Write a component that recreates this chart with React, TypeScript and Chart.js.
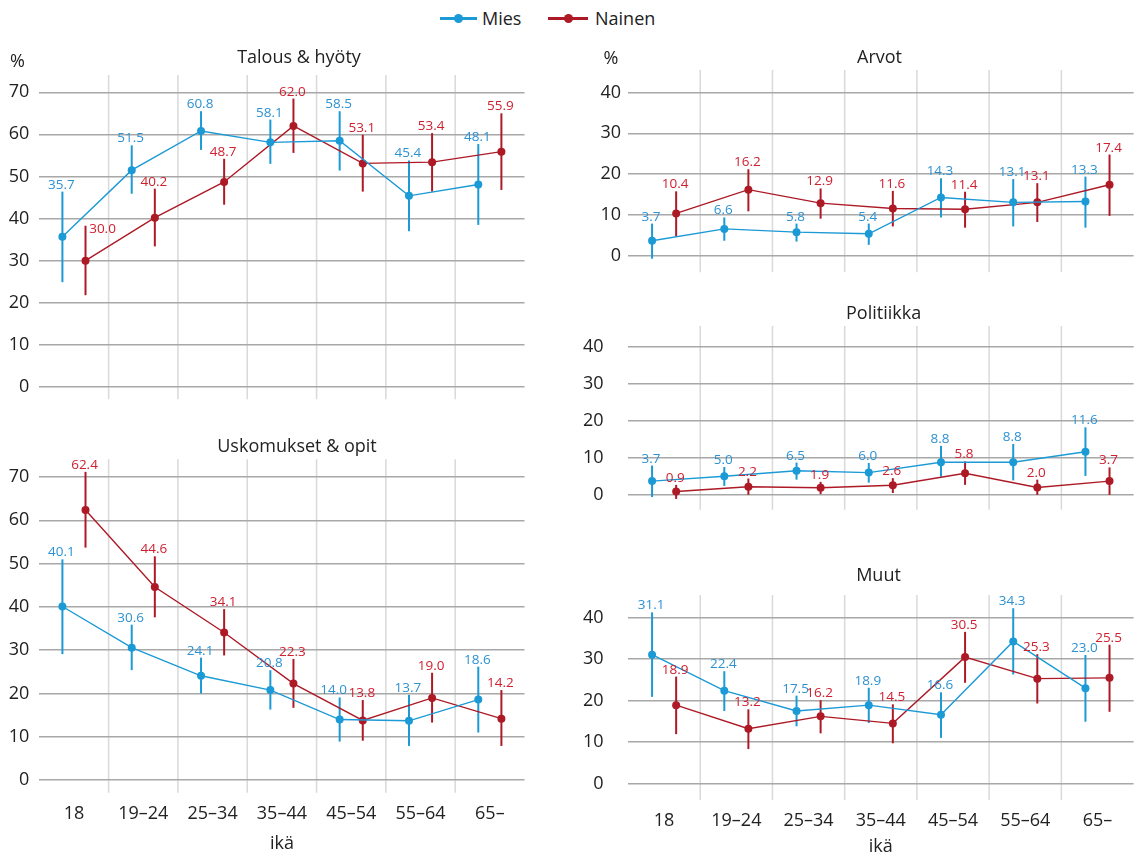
import React, { useEffect, useRef } from 'react';
import { Chart, registerables } from 'chart.js';

Chart.register(...registerables);

// ---------- data ----------
const AGE_GROUPS = ['18', '19–24', '25–34', '35–44', '45–54', '55–64', '65–'];
const Y_TICKS_LEFT = [0, 10, 20, 30, 40, 50, 60, 70];
const Y_TICKS_RIGHT = [0, 10, 20, 30, 40];
const SERIES_NAMES = ['Mies', 'Nainen'];

// Talous & hyöty
const TALOUS_MIES = [35.7, 51.5, 60.8, 58.1, 58.5, 45.4, 48.1];
const TALOUS_MIES_LOW = [24.9, 45.9, 56.3, 53.0, 51.4, 37.0, 38.5];
const TALOUS_MIES_HIGH = [46.4, 57.4, 65.5, 63.5, 65.5, 53.8, 57.7];
const TALOUS_NAINEN = [30.0, 40.2, 48.7, 62.0, 53.1, 53.4, 55.9];
const TALOUS_NAINEN_LOW = [21.8, 33.4, 43.3, 55.6, 46.4, 46.4, 46.8];
const TALOUS_NAINEN_HIGH = [38.3, 47.1, 54.2, 68.5, 59.9, 60.3, 65.0];

// Uskomukset & opit
const USKO_MIES = [40.1, 30.6, 24.1, 20.8, 14.0, 13.7, 18.6];
const USKO_MIES_LOW = [29.1, 25.4, 20.0, 16.3, 8.9, 7.9, 11.0];
const USKO_MIES_HIGH = [51.0, 35.9, 28.3, 25.4, 19.1, 19.7, 26.2];
const USKO_NAINEN = [62.4, 44.6, 34.1, 22.3, 13.8, 19.0, 14.2];
const USKO_NAINEN_LOW = [53.7, 37.6, 28.8, 16.7, 9.1, 13.3, 7.9];
const USKO_NAINEN_HIGH = [71.2, 51.7, 39.5, 28.0, 18.5, 24.8, 20.8];

// Arvot
const ARVOT_MIES = [3.7, 6.6, 5.8, 5.4, 14.3, 13.1, 13.3];
const ARVOT_MIES_LOW = [-0.7, 3.7, 3.5, 2.7, 9.4, 7.2, 6.9];
const ARVOT_MIES_HIGH = [7.9, 9.4, 7.9, 7.9, 19.0, 18.8, 19.4];
const ARVOT_NAINEN = [10.4, 16.2, 12.9, 11.6, 11.4, 13.1, 17.4];
const ARVOT_NAINEN_LOW = [4.7, 10.9, 9.1, 7.2, 6.9, 8.3, 9.8];
const ARVOT_NAINEN_HIGH = [15.8, 21.2, 16.5, 15.9, 15.7, 17.8, 24.8];

// Politiikka
const POLI_MIES = [3.7, 5.0, 6.5, 6.0, 8.8, 8.8, 11.6];
const POLI_MIES_LOW = [-0.6, 2.4, 4.1, 3.3, 4.9, 3.9, 5.1];
const POLI_MIES_HIGH = [7.9, 7.5, 8.7, 8.6, 13.2, 13.7, 18.2];
const POLI_NAINEN = [0.9, 2.2, 1.9, 2.6, 5.8, 2.0, 3.7];
const POLI_NAINEN_LOW = [-1.1, 0.0, 0.2, 0.5, 2.7, 0.0, 0.0];
const POLI_NAINEN_HIGH = [2.7, 4.4, 3.5, 4.5, 9.0, 4.1, 7.4];

// Muut
const MUUT_MIES = [31.1, 22.4, 17.5, 18.9, 16.6, 34.3, 23.0];
const MUUT_MIES_LOW = [20.9, 17.5, 13.8, 14.6, 11.0, 26.3, 14.9];
const MUUT_MIES_HIGH = [41.3, 27.1, 21.2, 23.1, 22.0, 42.3, 31.0];
const MUUT_NAINEN = [18.9, 13.2, 16.2, 14.5, 30.5, 25.3, 25.5];
const MUUT_NAINEN_LOW = [11.9, 8.3, 12.1, 9.7, 24.3, 19.3, 17.3];
const MUUT_NAINEN_HIGH = [25.8, 17.9, 20.1, 19.1, 36.6, 31.2, 33.5];

// ---------- styles ----------
const FONT = '"Open Sans", "Noto Sans", sans-serif';
const BLUE = '#1b9ad6';
const RED = '#ad1a26';
const BLUE_LABEL = '#2d92d2';
const RED_LABEL = '#cf2030';
const TEXT = '#222222';
const H_GRID = '#a8a8a8';
const V_GRID = '#d9d9d9';
const OFFSET = 1 / 6;

type Series = { values: number[]; low: number[]; high: number[] };
type Nudge = { series: number; index: number; dx: number; dy: number };
type PanelCfg = {
  title: string;
  frame: { left: number; top: number; width: number; height: number };
  pad: { top: number; right: number; bottom: number; left: number };
  yAxisWidth: number;
  yTickPadding: number;
  xAxisHeight: number;
  yMin: number;
  yMax: number;
  yTicks: number[];
  titlePos: [number, number];
  percentPos?: [number, number];
  labelNudges?: Nudge[];
  mies: Series;
  nainen: Series;
};

const PANELS: PanelCfg[] = [
  {
    title: 'Talous & hyöty',
    frame: { left: 0, top: 30, width: 545, height: 390 },
    pad: { top: 45, right: 20.5, bottom: 13, left: 0 },
    yAxisWidth: 39.3,
    yTickPadding: 10,
    xAxisHeight: 0,
    yMin: -2.9,
    yMax: 74.1,
    yTicks: Y_TICKS_LEFT,
    titlePos: [299, 58],
    percentPos: [17.5, 62],
    labelNudges: [{ series: 1, index: 0, dx: 18, dy: 10 }],
    mies: { values: TALOUS_MIES, low: TALOUS_MIES_LOW, high: TALOUS_MIES_HIGH },
    nainen: { values: TALOUS_NAINEN, low: TALOUS_NAINEN_LOW, high: TALOUS_NAINEN_HIGH },
  },
  {
    title: 'Uskomukset & opit',
    frame: { left: 0, top: 420, width: 545, height: 435 },
    pad: { top: 39.3, right: 20.5, bottom: 0, left: 0 },
    yAxisWidth: 39.3,
    yTickPadding: 10,
    xAxisHeight: 62.3,
    yMin: -2.9,
    yMax: 74.1,
    yTicks: Y_TICKS_LEFT,
    titlePos: [297, 446.7],
    labelNudges: [{ series: 0, index: 4, dx: -5, dy: 0 }],
    mies: { values: USKO_MIES, low: USKO_MIES_LOW, high: USKO_MIES_HIGH },
    nainen: { values: USKO_NAINEN, low: USKO_NAINEN_LOW, high: USKO_NAINEN_HIGH },
  },
  {
    title: 'Arvot',
    frame: { left: 560, top: 30, width: 580, height: 260 },
    pad: { top: 40, right: 6.4, bottom: 15.7, left: 0 },
    yAxisWidth: 68,
    yTickPadding: 7,
    xAxisHeight: 0,
    yMin: -4,
    yMax: 45.5,
    yTicks: Y_TICKS_RIGHT,
    titlePos: [879.5, 58],
    percentPos: [611, 59],
    mies: { values: ARVOT_MIES, low: ARVOT_MIES_LOW, high: ARVOT_MIES_HIGH },
    nainen: { values: ARVOT_NAINEN, low: ARVOT_NAINEN_LOW, high: ARVOT_NAINEN_HIGH },
  },
  {
    title: 'Politiikka',
    frame: { left: 560, top: 290, width: 580, height: 255 },
    pad: { top: 36, right: 6.4, bottom: 14.3, left: 0 },
    yAxisWidth: 68,
    yTickPadding: 24.5,
    xAxisHeight: 0,
    yMin: -4,
    yMax: 45.5,
    yTicks: Y_TICKS_RIGHT,
    titlePos: [883.6, 314],
    mies: { values: POLI_MIES, low: POLI_MIES_LOW, high: POLI_MIES_HIGH },
    nainen: { values: POLI_NAINEN, low: POLI_NAINEN_LOW, high: POLI_NAINEN_HIGH },
  },
  {
    title: 'Muut',
    frame: { left: 560, top: 545, width: 580, height: 315 },
    pad: { top: 50, right: 6.4, bottom: 2.5, left: 0 },
    yAxisWidth: 68,
    yTickPadding: 24.5,
    xAxisHeight: 57.5,
    yMin: -4,
    yMax: 45.5,
    yTicks: Y_TICKS_RIGHT,
    titlePos: [878.5, 576],
    mies: { values: MUUT_MIES, low: MUUT_MIES_LOW, high: MUUT_MIES_HIGH },
    nainen: { values: MUUT_NAINEN, low: MUUT_NAINEN_LOW, high: MUUT_NAINEN_HIGH },
  },
];

// ---------- plugin ----------
const decorPlugin = {
  id: 'panelDecor',
  beforeDraw(chart: any) {
    const { ctx, chartArea, scales } = chart;
    const x = scales.x;
    ctx.save();
    ctx.strokeStyle = V_GRID;
    ctx.lineWidth = 1.5;
    for (let i = 0; i < AGE_GROUPS.length - 1; i++) {
      const px = x.getPixelForValue(i + 0.5);
      ctx.beginPath();
      ctx.moveTo(px, chartArea.top);
      ctx.lineTo(px, chartArea.bottom);
      ctx.stroke();
    }
    ctx.restore();
  },
  beforeDatasetsDraw(chart: any) {
    const { ctx, scales } = chart;
    const y = scales.y;
    ctx.save();
    ctx.lineWidth = 2;
    ctx.lineCap = 'butt';
    chart.data.datasets.forEach((ds: any, di: number) => {
      const meta = chart.getDatasetMeta(di);
      ctx.strokeStyle = ds.borderColor;
      meta.data.forEach((pt: any, i: number) => {
        ctx.beginPath();
        ctx.moveTo(pt.x, y.getPixelForValue(ds.errLow[i]));
        ctx.lineTo(pt.x, y.getPixelForValue(ds.errHigh[i]));
        ctx.stroke();
      });
    });
    ctx.restore();
  },
  afterDatasetsDraw(chart: any, _args: any, opts: any) {
    const { ctx, scales } = chart;
    const y = scales.y;
    const nudges: Nudge[] = opts.nudges || [];
    ctx.save();
    ctx.font = `13.5px ${FONT}`;
    ctx.textAlign = 'center';
    ctx.textBaseline = 'alphabetic';
    chart.data.datasets.forEach((ds: any, di: number) => {
      const meta = chart.getDatasetMeta(di);
      ctx.fillStyle = ds.labelColor;
      meta.data.forEach((pt: any, i: number) => {
        const n = nudges.find((q) => q.series === di && q.index === i);
        const dx = n ? n.dx : 0;
        const dy = n ? n.dy : 0;
        const top = y.getPixelForValue(ds.errHigh[i]);
        ctx.fillText(ds.data[i].y.toFixed(1), pt.x - 1 + dx, top - 3 + dy);
      });
    });
    ctx.restore();
  },
  afterDraw(chart: any, _args: any, opts: any) {
    const { ctx } = chart;
    ctx.save();
    ctx.fillStyle = TEXT;
    ctx.font = `18px ${FONT}`;
    ctx.textAlign = 'center';
    ctx.textBaseline = 'middle';
    ctx.fillText(opts.title, opts.titleX, opts.titleY);
    if (opts.percent) {
      ctx.fillText('%', opts.percent[0], opts.percent[1]);
    }
    ctx.restore();
  },
};

function Panel({ cfg }: { cfg: PanelCfg }) {
  const ref = useRef<HTMLCanvasElement>(null);
  useEffect(() => {
    const canvas = ref.current;
    if (!canvas) return;
    const mk = (s: Series, dx: number) => s.values.map((v, i) => ({ x: i + dx, y: v }));
    const chart = new Chart(canvas, {
      type: 'line',
      data: {
        datasets: [
          {
            label: SERIES_NAMES[0],
            data: mk(cfg.mies, -OFFSET),
            borderColor: BLUE,
            backgroundColor: BLUE,
            borderWidth: 1.4,
            pointRadius: 4,
            pointBorderWidth: 0,
            pointBackgroundColor: BLUE,
            errLow: cfg.mies.low,
            errHigh: cfg.mies.high,
            labelColor: BLUE_LABEL,
          } as any,
          {
            label: SERIES_NAMES[1],
            data: mk(cfg.nainen, OFFSET),
            borderColor: RED,
            backgroundColor: RED,
            borderWidth: 1.4,
            pointRadius: 4,
            pointBorderWidth: 0,
            pointBackgroundColor: RED,
            errLow: cfg.nainen.low,
            errHigh: cfg.nainen.high,
            labelColor: RED_LABEL,
          } as any,
        ],
      },
      options: {
        animation: false,
        responsive: false,
        events: [],
        layout: { padding: cfg.pad },
        plugins: {
          legend: { display: false },
          tooltip: { enabled: false },
          title: { display: false },
          panelDecor: {
            title: cfg.title,
            titleX: cfg.titlePos[0] - cfg.frame.left,
            titleY: cfg.titlePos[1] - cfg.frame.top,
            percent: cfg.percentPos
              ? [cfg.percentPos[0] - cfg.frame.left, cfg.percentPos[1] - cfg.frame.top]
              : null,
            nudges: cfg.labelNudges || [],
          },
        } as any,
        scales: {
          x: {
            type: 'linear',
            min: -0.5,
            max: AGE_GROUPS.length - 0.5,
            bounds: 'data',
            display: cfg.xAxisHeight > 0,
            grid: { display: false },
            border: { display: false },
            afterBuildTicks: (s: any) => {
              s.ticks = AGE_GROUPS.map((_, i) => ({ value: i }));
            },
            afterFit: (s: any) => {
              s.height = cfg.xAxisHeight;
            },
            ticks: {
              autoSkip: false,
              maxRotation: 0,
              padding: 2.5,
              color: TEXT,
              font: { family: FONT, size: 18 },
              callback: (v: any) => AGE_GROUPS[Math.round(Number(v))] ?? '',
            },
            title: {
              display: true,
              text: 'ikä',
              color: TEXT,
              font: { family: FONT, size: 18 },
              padding: { top: 0, bottom: 0 },
            },
          },
          y: {
            type: 'linear',
            min: cfg.yMin,
            max: cfg.yMax,
            bounds: 'data',
            afterBuildTicks: (s: any) => {
              s.ticks = cfg.yTicks.map((v) => ({ value: v }));
            },
            afterFit: (s: any) => {
              s.width = cfg.yAxisWidth;
            },
            grid: { color: H_GRID, lineWidth: 1.5, drawTicks: false },
            border: { display: false },
            ticks: {
              padding: cfg.yTickPadding,
              color: TEXT,
              font: { family: FONT, size: 18 },
            },
          },
        } as any,
      },
      plugins: [decorPlugin as any],
    });
    return () => chart.destroy();
  }, [cfg]);
  return (
    <canvas
      ref={ref}
      width={cfg.frame.width}
      height={cfg.frame.height}
      style={{
        position: 'absolute',
        left: cfg.frame.left,
        top: cfg.frame.top,
        width: cfg.frame.width,
        height: cfg.frame.height,
      }}
    />
  );
}

function Legend() {
  const item = (left: number, lineW: number, dotX: number, color: string, textLeft: number, text: string) => (
    <React.Fragment key={text}>
      <div
        style={{
          position: 'absolute',
          left,
          top: 17,
          width: lineW,
          height: 3,
          background: color,
        }}
      />
      <div
        style={{
          position: 'absolute',
          left: dotX - 4.5,
          top: 14,
          width: 9,
          height: 9,
          borderRadius: '50%',
          background: color,
        }}
      />
      <div
        style={{
          position: 'absolute',
          left: textLeft,
          top: 6,
          height: 24,
          lineHeight: '24px',
          fontFamily: FONT,
          fontSize: 18,
          color: TEXT,
          whiteSpace: 'nowrap',
        }}
      >
        {text}
      </div>
    </React.Fragment>
  );
  return (
    <>
      {item(440, 37, 458.5, BLUE, 482, SERIES_NAMES[0])}
      {item(548, 40, 568, RED, 595, SERIES_NAMES[1])}
    </>
  );
}

export default function App() {
  return (
    <div
      style={{
        position: 'absolute',
        left: 0,
        top: 0,
        width: 1140,
        height: 855,
        overflow: 'hidden',
        background: '#ffffff',
      }}
    >
      <Legend />
      {PANELS.map((p) => (
        <Panel key={p.title} cfg={p} />
      ))}
    </div>
  );
}
